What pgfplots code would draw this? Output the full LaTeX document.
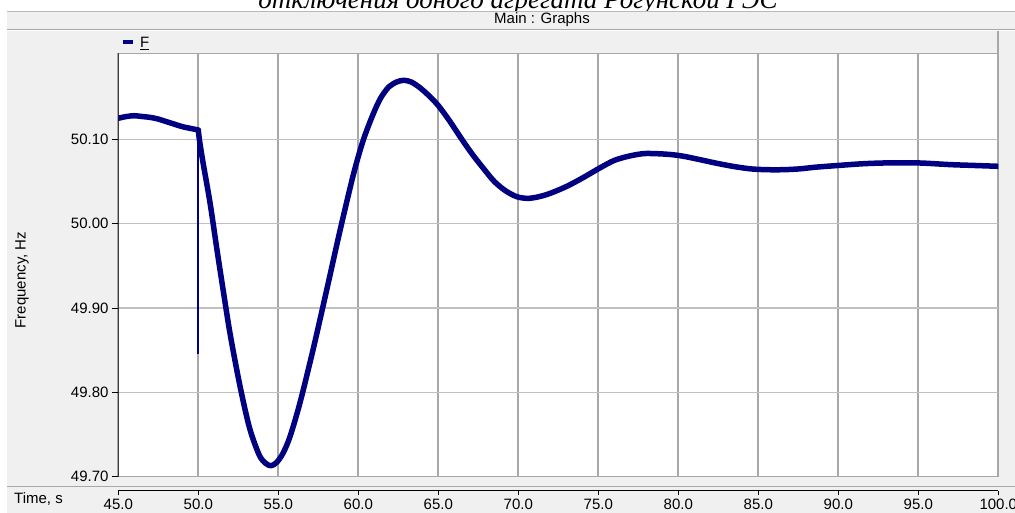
\documentclass[border=0pt]{standalone}
\usepackage{fontspec}
\setmainfont{Liberation Sans}
\newfontfamily\capfont{Liberation Serif}
\usepackage{pgfplots}
\pgfplotsset{compat=1.18}
\definecolor{navy}{RGB}{0,0,128}
\definecolor{bg}{RGB}{240,240,240}
\definecolor{gridv}{RGB}{168,168,168}
\definecolor{gridh}{RGB}{192,192,192}
\begin{document}
\begin{tikzpicture}[x=1pt,y=1pt]
\useasboundingbox (0,0) rectangle (1015,513);
\begin{scope}
\clip (0,0) rectangle (1015,513);
\fill[white] (0,0) rectangle (1015,513);
\node[font=\capfont\itshape\fontsize{27}{29}\selectfont, anchor=base, inner sep=0pt] at (518,504) {отключения одного агрегата Рогунской ГЭС};
\fill[bg] (7,0) rectangle (1015,501.5);
\draw[gray!55, line width=1pt] (7,501.5) -- (1015,501.5);
\draw[gridv, line width=1pt] (7,483.7) -- (1015,483.7);
\draw[white, line width=1pt] (7,482.2) -- (1015,482.2);
\draw[gridv, line width=2pt] (998.3,481.5) -- (998.3,459.7);
\draw[gridv, line width=1pt] (7,26.3) -- (1015,26.3);
\node[font=\fontsize{15}{16}\selectfont] at (542,493) {Main : Graphs};
\fill[navy] (122.7,469) rectangle (133.3,473);
\node[anchor=base west, inner sep=0pt, font=\fontsize{15}{16}\selectfont] at (140,465) {\underline{F}};
\node[rotate=90, font=\fontsize{15}{16}\selectfont] at (22,233) {Frequency, Hz};
\node[anchor=west, inner sep=0pt, font=\fontsize{15}{16}\selectfont] at (14,14) {Time, s};

\begin{axis}[
  at={(118.3pt,36.3pt)}, anchor=south west, scale only axis,
  width=880pt, height=423.4pt,
  xmin=45, xmax=100, ymin=49.70, ymax=50.202,
  axis background/.style={fill=white},
  xtick={45,50,...,100}, xticklabels={}, xtick style={draw=none},
  ytick={49.7,49.8,49.9,50.0,50.1}, ytick pos=left,
  tick align=outside, major tick length=6.3pt,
  ytick style={black, line width=1pt},
  /pgf/number format/assume math mode=true,
  yticklabel style={/pgf/number format/.cd, fixed, fixed zerofill, precision=2},
  tick label style={font=\fontsize{15}{16}\selectfont},
  xmajorgrids, ymajorgrids,
  x grid style={gridv, line width=2pt},
  y grid style={gridh, line width=1.5pt},
  axis line style={gridv, line width=1.5pt},
  clip=true,
]
\addplot[navy, line width=5.5pt, line join=round, line cap=round, smooth, tension=0.5] coordinates {
(45.0,50.125) (45.5,50.127) (46.0,50.128) (46.5,50.127) (47.0,50.126) (47.5,50.124)
(48.0,50.121) (48.5,50.118) (49.0,50.115) (49.5,50.113) (50.0,50.111)
};
\addplot[navy, line width=2.2pt] coordinates {(50.0,50.111) (50.0,49.846)};
\addplot[navy, line width=5.5pt, line join=round, line cap=round, smooth, tension=0.5] coordinates {
(50.0,50.111) (50.08,50.098) (50.3,50.072) (50.74,50.024) (51.16,49.970)
(51.58,49.918) (52.0,49.868) (52.6,49.808) (53.2,49.758) (53.8,49.726)
(54.2,49.716) (54.55,49.713) (54.9,49.717) (55.3,49.728) (55.74,49.748)
(56.36,49.788) (57.19,49.852) (58.02,49.921) (58.86,49.992) (59.69,50.058)
(60.31,50.099) (60.93,50.130) (61.4,50.149) (61.9,50.162) (62.4,50.168)
(62.85,50.170) (63.3,50.168) (63.8,50.162) (64.4,50.152) (65.0,50.140)
(65.7,50.122) (66.4,50.102) (67.1,50.083) (67.8,50.066) (68.5,50.050)
(69.2,50.039) (69.9,50.032) (70.6,50.030) (71.3,50.032) (72.0,50.036)
(73.0,50.044) (74.0,50.054) (75.09,50.066) (76.0,50.075) (76.9,50.080)
(77.8,50.083) (78.6,50.083) (79.5,50.082) (80.3,50.080) (81.33,50.076)
(82.3,50.072) (83.4,50.068) (84.5,50.065) (85.5,50.064) (86.6,50.064)
(87.6,50.065) (88.6,50.067) (90.0,50.069) (91.5,50.071) (93.0,50.072)
(95.0,50.072) (97.0,50.070) (98.5,50.069) (100,50.068)
};
\draw[black, line width=2pt] (rel axis cs:0,0) -- (rel axis cs:0,1);
\end{axis}

\begin{axis}[
  at={(118.3pt,22pt)}, anchor=south west, scale only axis,
  width=880pt, height=5pt,
  xmin=45, xmax=100, ymin=0, ymax=1,
  hide y axis, axis x line*=bottom,
  axis line style={black, line width=1pt, -},
  xtick={45,50,...,100}, tick align=outside, major tick length=4.5pt,
  xtick style={black, line width=1pt},
  /pgf/number format/assume math mode=true,
  xticklabel style={/pgf/number format/.cd, fixed, fixed zerofill, precision=1},
  tick label style={font=\fontsize{15}{16}\selectfont},
]
\addplot[draw=none] coordinates {(45,0) (100,0)};
\end{axis}
\end{scope}
\end{tikzpicture}
\end{document}
